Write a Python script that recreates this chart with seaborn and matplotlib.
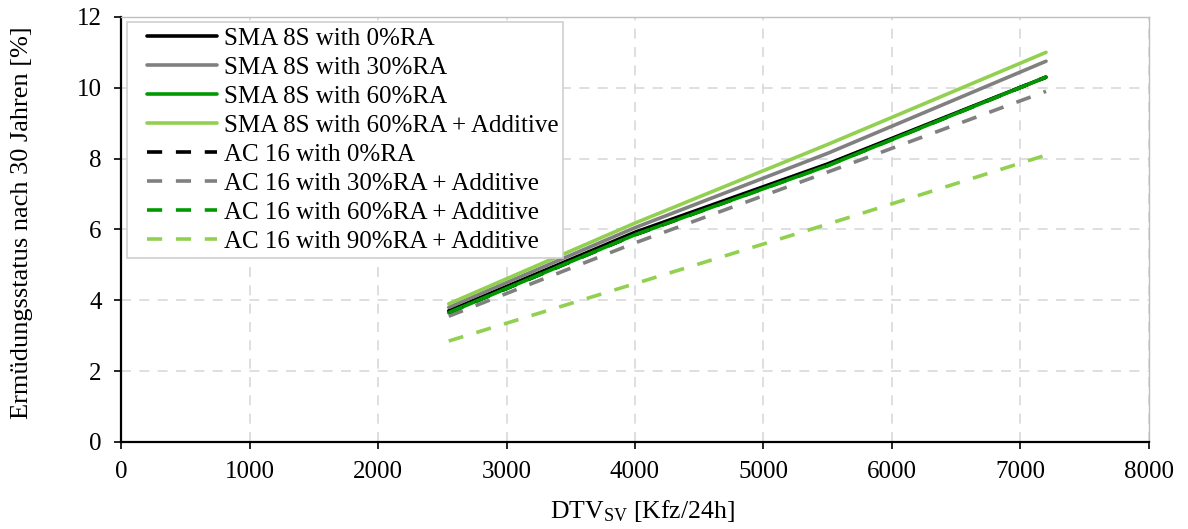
import matplotlib
matplotlib.use("Agg")
import matplotlib.pyplot as plt
from matplotlib.lines import Line2D
from matplotlib.legend_handler import HandlerLine2D
import seaborn as sns
import pandas as pd

sns.set_style("white")
plt.rcParams['font.family'] = ['Liberation Serif', 'DejaVu Serif']
plt.rcParams['mathtext.fontset'] = 'custom'
plt.rcParams['mathtext.rm'] = 'Liberation Serif'
plt.rcParams['mathtext.it'] = 'Liberation Serif'
plt.rcParams['text.color'] = 'black'
plt.rcParams['axes.labelcolor'] = 'black'

x_vals = [2550, 4000, 5500, 7200]

sma_0 = [3.70, 5.92, 7.85, 10.30]
sma_30 = [3.80, 6.05, 8.15, 10.75]
sma_60 = [3.65, 5.85, 7.80, 10.30]
sma_60_add = [3.90, 6.18, 8.40, 11.00]
ac_0 = [3.65, 5.85, 7.82, 10.30]
ac_30_add = [3.55, 5.62, 7.62, 9.90]
ac_60_add = [3.65, 5.85, 7.80, 10.30]
ac_90_add = [2.85, 4.47, 6.15, 8.10]

labels = [
    "SMA 8S with 0%RA",
    "SMA 8S with 30%RA",
    "SMA 8S with 60%RA",
    "SMA 8S with 60%RA + Additive",
    "AC 16 with 0%RA",
    "AC 16 with 30%RA + Additive",
    "AC 16 with 60%RA + Additive",
    "AC 16 with 90%RA + Additive",
]
series = [sma_0, sma_30, sma_60, sma_60_add, ac_0, ac_30_add, ac_60_add, ac_90_add]
colors = ["#000000", "#808080", "#009A00", "#92D050",
          "#000000", "#808080", "#009A00", "#92D050"]
solid = [True, True, True, True, False, False, False, False]

x_ticks = [0, 1000, 2000, 3000, 4000, 5000, 6000, 7000, 8000]
y_ticks = [0, 2, 4, 6, 8, 10, 12]

rows = []
for lab, vals in zip(labels, series):
    for xv, yv in zip(x_vals, vals):
        rows.append({"DTV": xv, "value": yv, "series": lab})
df = pd.DataFrame(rows)

fig = plt.figure(figsize=(11.88, 5.29), dpi=100)
ax = fig.add_axes([0.102, 0.1645, 0.865, 0.8035])

for lab, col, sol in zip(labels, colors, solid):
    sub = df[df["series"] == lab]
    sns.lineplot(data=sub, x="DTV", y="value", ax=ax, color=col, lw=2.6,
                 label=lab, estimator=None, sort=False)
    line = ax.get_lines()[-1]
    if not sol:
        line.set_dashes((4.2, 3.8))

ax.set_xlim(0, 8000)
ax.set_ylim(0, 12)
ax.set_xticks(x_ticks)
ax.set_yticks(y_ticks)
ax.tick_params(axis='both', labelsize=18, direction='out', length=5, width=1.2,
               colors='black', left=True, bottom=True, pad=9)
ax.grid(True, color='#D9D9D9', linestyle=(0, (6, 5)), linewidth=1.2)
ax.set_axisbelow(True)
for s in ['top', 'right']:
    ax.spines[s].set_color('#BFBFBF')
    ax.spines[s].set_linewidth(1.0)
for s in ['left', 'bottom']:
    ax.spines[s].set_color('black')
    ax.spines[s].set_linewidth(1.6)

ax.set_xlabel(r"DTV$_{\rm SV}$ [Kfz/24h]", fontsize=18.5)
ax.set_ylabel("Ermüdungsstatus nach 30 Jahren [%]", fontsize=19)
ax.xaxis.set_label_coords(0.507, -0.132)
ax.yaxis.set_label_coords(-0.086, 0.515)

leg = ax.legend(loc='upper left', fontsize=18, frameon=True, fancybox=False,
                framealpha=1, edgecolor='#D0D0D0', handlelength=3.4,
                labelspacing=0.26, borderpad=0.2, handletextpad=0.25,
                borderaxespad=0.0, bbox_to_anchor=(0.006, 0.988),
                handler_map={Line2D: HandlerLine2D(xpad=0.6)})
leg.get_frame().set_linewidth(1.2)

fig.savefig("out.png", dpi=100)
